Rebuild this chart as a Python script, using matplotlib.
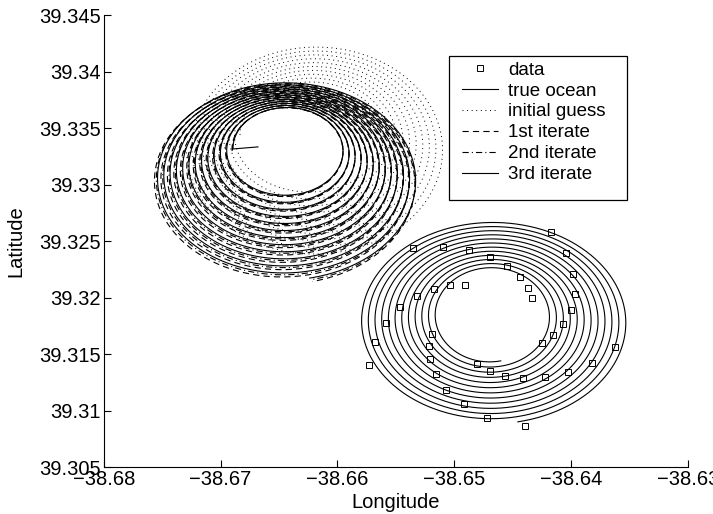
import numpy as np
import matplotlib
matplotlib.use("Agg")
import matplotlib.pyplot as plt
from matplotlib.patches import Rectangle

plt.rcParams['font.family'] = ['Liberation Sans', 'DejaVu Sans']
plt.rcParams['lines.scale_dashes'] = False

# ---- data squares (sampled "true ocean" positions) ----
data_lon = [-38.64174, -38.65355, -38.65098, -38.64876, -38.64691, -38.64043, -38.64545,
            -38.63980, -38.64437, -38.64371, -38.63966, -38.65033, -38.64905, -38.65173,
            -38.64334, -38.65321, -38.63997, -38.65462, -38.64066, -38.65584, -38.64152,
            -38.65190, -38.64251, -38.65218, -38.65681, -38.63626, -38.65207, -38.63820,
            -38.65729, -38.64802, -38.64028, -38.64696, -38.65156, -38.64568, -38.64408,
            -38.64225, -38.65068, -38.64919, -38.64719, -38.64391]
data_lat = [39.32586, 39.32444, 39.32453, 39.32421, 39.32360, 39.32395, 39.32283,
            39.32209, 39.32186, 39.32086, 39.32038, 39.32109, 39.32112, 39.32077,
            39.31994, 39.32012, 39.31891, 39.31918, 39.31768, 39.31779, 39.31673,
            39.31682, 39.31600, 39.31576, 39.31609, 39.31567, 39.31455, 39.31426,
            39.31402, 39.31411, 39.31340, 39.31355, 39.31329, 39.31311, 39.31291,
            39.31296, 39.31187, 39.31057, 39.30940, 39.30863]

# ---- spiral descriptions ----
# each: inner centre, outer centre, inner radii, outer radii, turns, inner angle (deg)
true_ocean = dict(c_in=(-38.64689, 39.31841), c_out=(-38.64676, 39.31785),
                  r_in=(0.00458, 0.00406), r_out=(0.01158, 0.00898), turns=12.0, ang=-79.0)
initial_guess = dict(c_in=(-38.66235, 39.33440), c_out=(-38.66182, 39.33307),
                     r_in=(0.00599, 0.00459), r_out=(0.01110, 0.00935), turns=10.0, ang=180.0)
iterate1 = dict(c_in=(-38.66440, 39.33310), c_out=(-38.66466, 39.33007),
                r_in=(0.00462, 0.00366), r_out=(0.01140, 0.00885), turns=12.72, ang=182.0)
iterate2 = dict(c_in=(-38.66438, 39.33313), c_out=(-38.66455, 39.33022),
                r_in=(0.00460, 0.00364), r_out=(0.01134, 0.00880), turns=12.72, ang=181.0)
iterate3 = dict(c_in=(-38.66436, 39.33316), c_out=(-38.66449, 39.33034),
                r_in=(0.00458, 0.00362), r_out=(0.01130, 0.00875), turns=12.72, ang=180.0)
iterate3_start = (-38.66680, 39.33334)

xticks = [-38.68, -38.67, -38.66, -38.65, -38.64, -38.63]
xticklabels = ['\u221238.68', '\u221238.67', '\u221238.66', '\u221238.65', '\u221238.64', '\u221238.63']
yticks = [39.305, 39.31, 39.315, 39.32, 39.325, 39.33, 39.335, 39.34, 39.345]
yticklabels = ['39.305', '39.31', '39.315', '39.32', '39.325', '39.33', '39.335', '39.34', '39.345']


def spiral(p, n=6000):
    t = np.linspace(0.0, 1.0, n)
    th = np.deg2rad(p['ang']) - 2 * np.pi * p['turns'] * t
    cx = p['c_in'][0] + (p['c_out'][0] - p['c_in'][0]) * t
    cy = p['c_in'][1] + (p['c_out'][1] - p['c_in'][1]) * t
    rx = p['r_in'][0] + (p['r_out'][0] - p['r_in'][0]) * t
    ry = p['r_in'][1] + (p['r_out'][1] - p['r_in'][1]) * t
    return cx + rx * np.cos(th), cy + ry * np.sin(th)


fig = plt.figure(figsize=(7.13, 5.14), dpi=100)
ax = fig.add_axes([0.1456, 0.0905, 0.8191, 0.8803])

lw = 0.8
ax.plot(data_lon, data_lat, ls='none', marker='s', ms=4.6, mfc='none', mec='black',
        mew=0.7, label='data')
x, y = spiral(true_ocean)
ax.plot(x, y, color='black', lw=lw, label='true ocean')
x, y = spiral(initial_guess)
ax.plot(x, y, color='black', lw=0.7, dashes=(0.7, 2.6), label='initial guess')
x, y = spiral(iterate1)
ax.plot(x, y, color='black', lw=lw, dashes=(4.5, 3.0), label='1st iterate')
x, y = spiral(iterate2)
ax.plot(x, y, color='black', lw=lw, dashes=(4.5, 2.2, 0.8, 2.2), label='2nd iterate')
x, y = spiral(iterate3)
x = np.concatenate([[iterate3_start[0]], x])
y = np.concatenate([[iterate3_start[1]], y])
ax.plot(x, y, color='black', lw=lw, label='3rd iterate')

ax.set_xlim(-38.68, -38.63)
ax.set_ylim(39.305, 39.345)
ax.set_xticks(xticks)
ax.set_xticklabels(xticklabels)
ax.set_yticks(yticks)
ax.set_yticklabels(yticklabels)
ax.tick_params(direction='in', length=5, width=0.8, labelsize=14.5, pad=2)
ax.spines['top'].set_visible(False)
ax.spines['right'].set_visible(False)
ax.spines['left'].set_linewidth(0.8)
ax.spines['bottom'].set_linewidth(0.8)
ax.set_xlabel('Longitude', fontsize=14.5, labelpad=3)
ax.set_ylabel('Latitude', fontsize=14.5, labelpad=10)

# legend box (drawn separately to match the reference's padding)
ax.add_patch(Rectangle((0.5911, 0.5912), 0.3048, 0.3182, transform=ax.transAxes,
                       facecolor='white', edgecolor='black', lw=0.9, zorder=5))
leg = ax.legend(loc='upper left', bbox_to_anchor=(0.6134, 0.897), borderaxespad=0,
                fontsize=13.5, frameon=False, handlelength=1.92, handletextpad=0.53,
                labelspacing=0.2, borderpad=0)
leg.set_zorder(6)

fig.savefig('out.png', dpi=100)
